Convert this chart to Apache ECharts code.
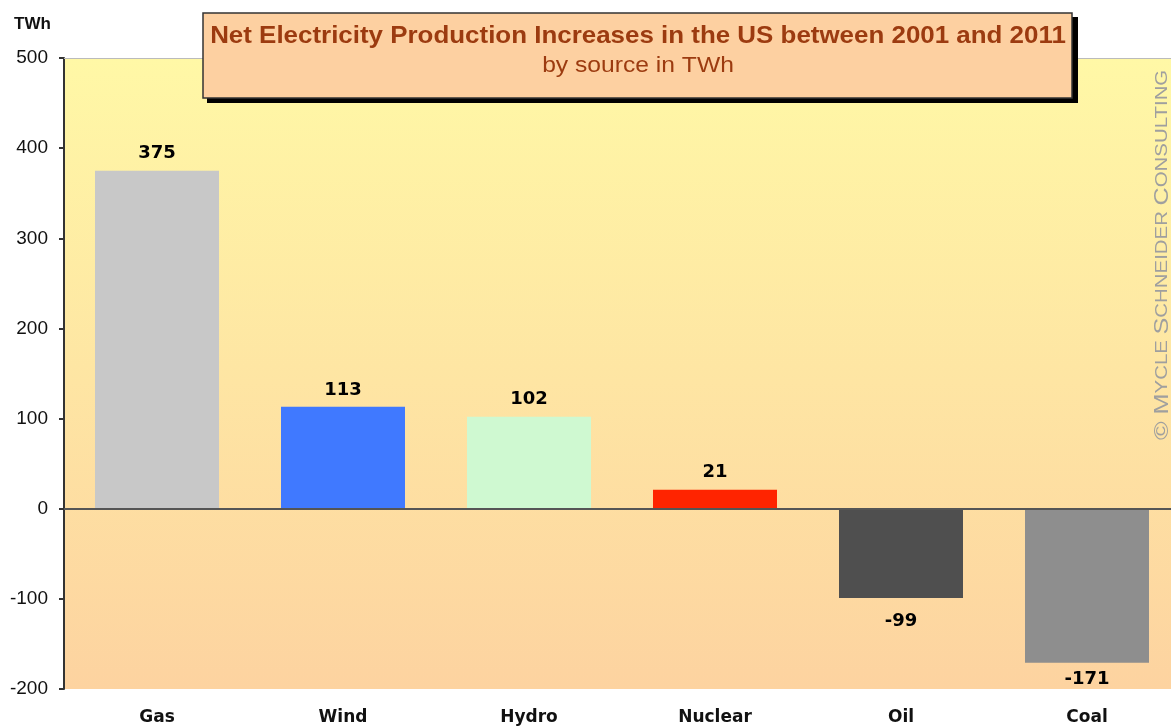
<!DOCTYPE html>
<html><head><meta charset="utf-8">
<script src="https://cdn.jsdelivr.net/npm/echarts@6/dist/echarts.min.js"></script>
<style>html,body{margin:0;padding:0;background:#fff}#c{width:1171px;height:726px}</style>
</head><body><div id="c"></div>
<script>
const categories = ['Gas', 'Wind', 'Hydro', 'Nuclear', 'Oil', 'Coal'];
const values = [375, 113, 102, 21, -99, -171];
const barColors = ['#c8c8c8', '#4079ff', '#cff9d1', '#ff2400', '#4f4f4f', '#8e8e8e'];
const yTicks = [-200, -100, 0, 100, 200, 300, 400, 500];
const titleText = 'Net Electricity Production Increases in the US between 2001 and 2011';
const subtitleText = 'by source in TWh';
const unitText = 'TWh';

const chart = echarts.init(document.getElementById('c'));
const gridLeft = 64, gridTop = 58, gridW = 1116, gridH = 631;
// labels below negative bars; the deepest one is kept inside the plot frame
const negLabelDistance = v => (v < -150 ? 7 : 14);
chart.setOption({
  animation: false,
  grid: {
    left: gridLeft, top: gridTop, width: gridW, height: gridH,
    outerBoundsMode: 'none', containLabel: false,
    show: true, borderWidth: 0,
    backgroundColor: new echarts.graphic.LinearGradient(0, 0, 0, 1, [
      {offset: 0, color: '#fff8a6'}, {offset: 1, color: '#fdd3a0'}
    ])
  },
  xAxis: {
    type: 'category', data: categories, position: 'bottom',
    axisLine: {show: false}, axisTick: {show: false},
    axisLabel: {color: '#111', fontFamily: 'DejaVu Sans, Verdana', fontWeight: 'bold', fontSize: 17, margin: 20}
  },
  yAxis: {
    type: 'value', min: -200, max: 500, interval: 100,
    splitLine: {show: false},
    axisLine: {show: true, onZero: false, lineStyle: {color: '#333', width: 2}},
    axisTick: {show: true, inside: false, length: 5, lineStyle: {color: '#333', width: 2}},
    axisLabel: {color: '#111', fontFamily: 'Liberation Sans, Arial', fontSize: 19, margin: 16,
      formatter: v => yTicks.includes(v) ? String(v) : ''}
  },
  series: [{
    type: 'bar', barWidth: 124,
    data: values.map((v, i) => ({value: v, itemStyle: {color: barColors[i]},
      label: v < 0 ? {position: 'bottom', distance: negLabelDistance(v)} : {}})),
    label: {show: true, color: '#000', fontFamily: 'DejaVu Sans, Verdana', fontWeight: 'bold', fontSize: 18,
      formatter: p => String(p.value),
      position: 'top', distance: 8},
    markLine: {
      silent: true, symbol: 'none', label: {show: false},
      lineStyle: {color: '#555', width: 2, type: 'solid'},
      data: [{yAxis: 0}, {yAxis: 500, lineStyle: {color: '#bbb', width: 1}}]
    }
  }],
  graphic: [
    {type: 'text', left: 14, top: 16, style: {text: unitText, fill: '#111', font: 'bold 17px Liberation Sans, Arial'}},
    {type: 'rect', shape: {x: 207, y: 17, width: 871, height: 86}, style: {fill: '#000'}, z: 10},
    {type: 'rect', shape: {x: 203, y: 13, width: 869, height: 85}, style: {fill: '#fdd0a1', stroke: '#333', lineWidth: 1.5}, z: 11},
    {type: 'text', x: 638, y: 24, scaleX: 1.08, z: 12, style: {text: titleText, fill: '#9c3b10', font: 'bold 24px Liberation Sans, Arial', align: 'center'}},
    {type: 'text', x: 638, y: 55, scaleX: 1.12, z: 12, style: {text: subtitleText, fill: '#9c3b10', font: '22px Liberation Sans, Arial', align: 'center'}},
    {type: 'text', x: 1152, y: 440, rotation: Math.PI / 2, scaleX: 1.2, z: 12,
      style: {
        text: '{b|© M}{s|YCLE }{b|S}{s|CHNEIDER }{b|C}{s|ONSULTING}',
        rich: {
          b: {fill: '#9f9f9f', font: '21px Liberation Sans, Arial'},
          s: {fill: '#9f9f9f', font: '17px Liberation Sans, Arial'}
        }
      }}
  ]
});
</script></body></html>
